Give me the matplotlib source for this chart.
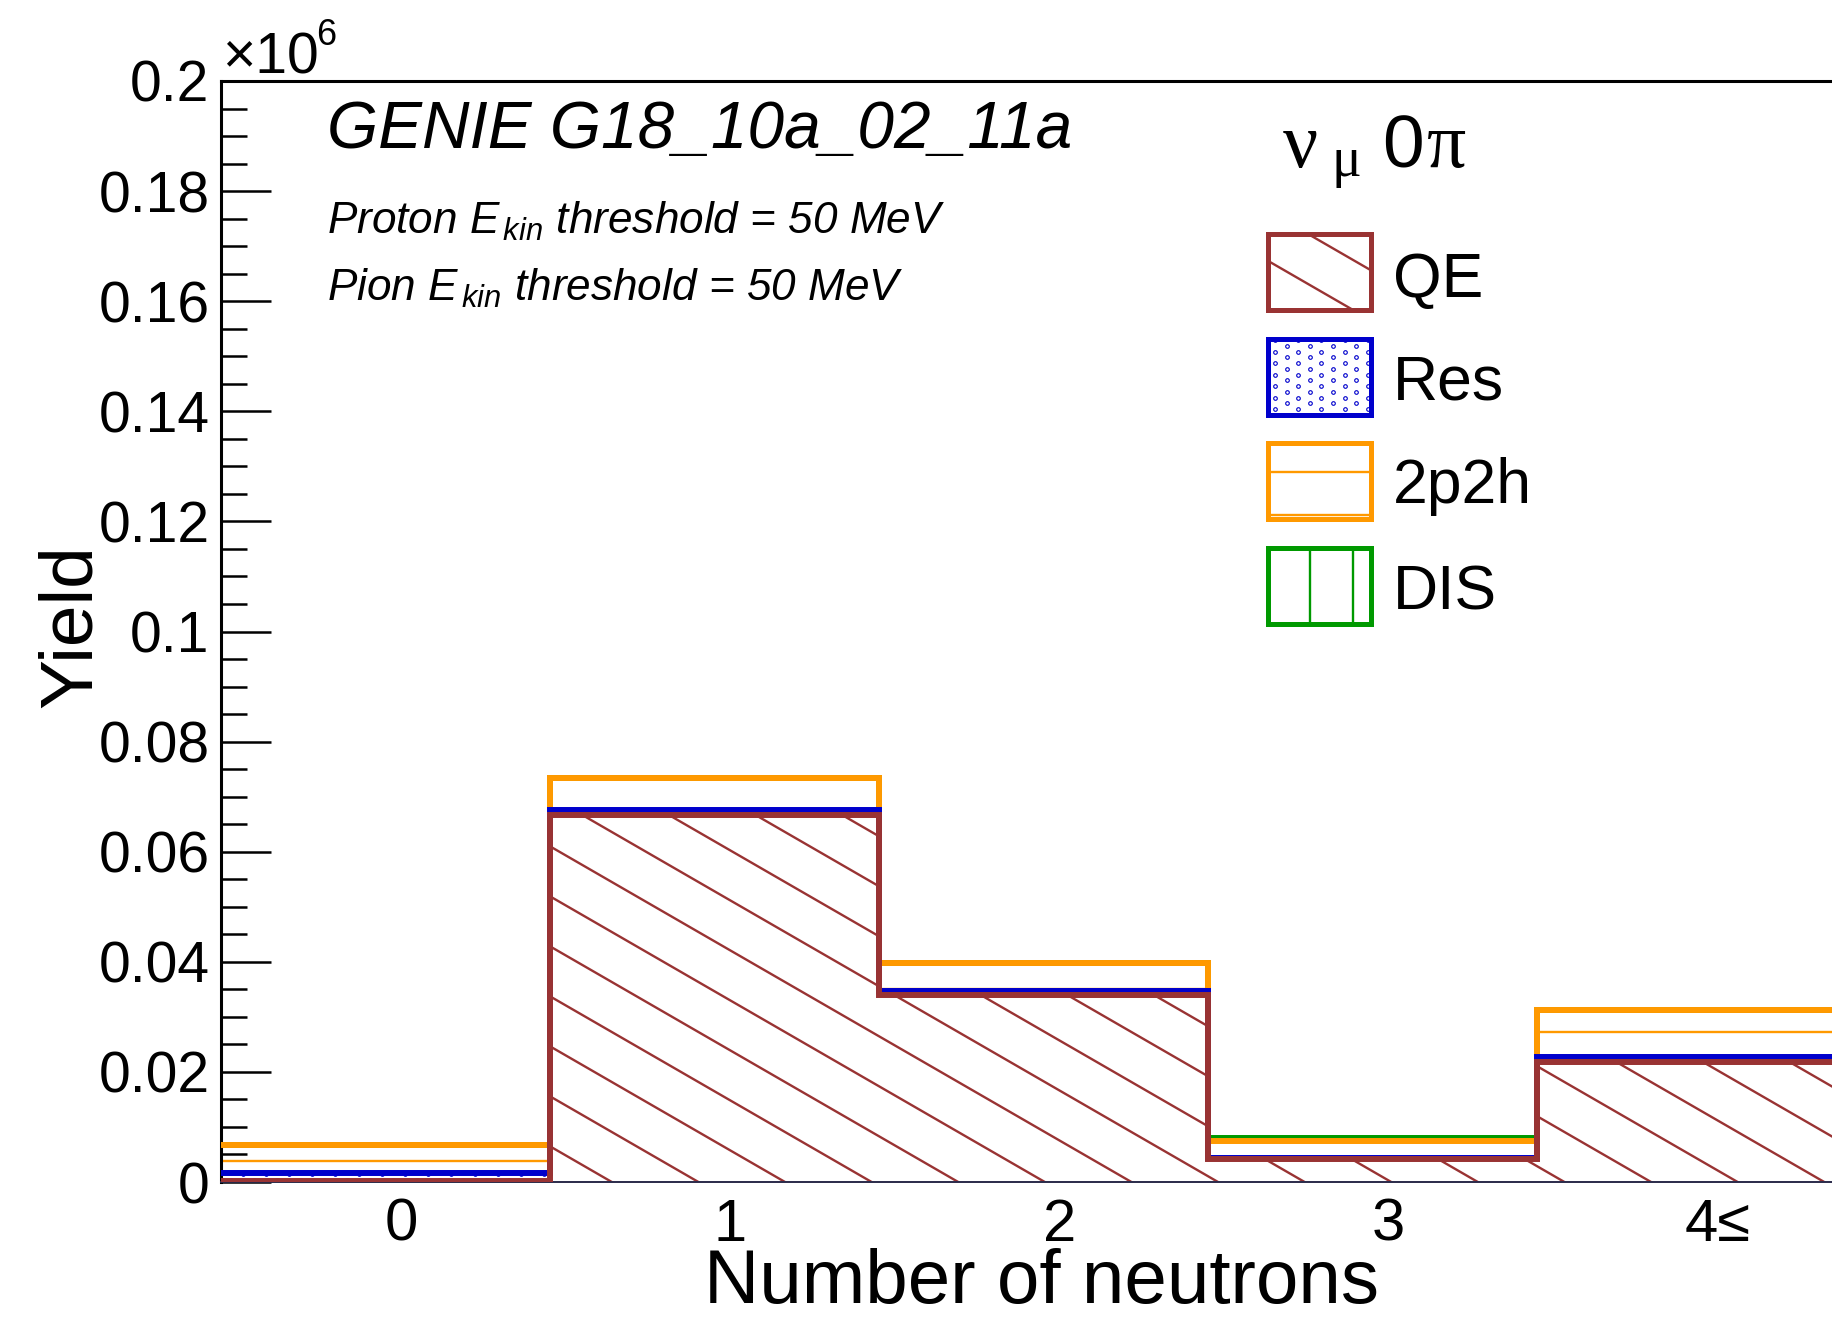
import numpy as np
import matplotlib.pyplot as plt
from matplotlib.collections import LineCollection
from matplotlib.patches import Rectangle
from matplotlib.ticker import MultipleLocator, FuncFormatter
from matplotlib.transforms import ScaledTranslation

plt.rcParams['font.family'] = ['Liberation Sans', 'DejaVu Sans']
plt.rcParams['mathtext.fontset'] = 'custom'
plt.rcParams['mathtext.rm'] = 'Liberation Sans'
plt.rcParams['mathtext.it'] = 'Liberation Sans:italic'

# neutron multiplicity bins and stacked yields per interaction channel
bin_labels = ['0', '1', '2', '3', '4≤']
qe = [200, 66600, 34000, 4100, 21800]
res = [1400, 1050, 650, 330, 850]
mec = [5150, 5750, 5150, 3050, 8540]
dis = [30, 40, 40, 480, 80]

channels = ['QE', 'Res', '2p2h', 'DIS']
colors = ['#993333', '#0000cc', '#ff9900', '#009900']
hatches = ['diag', 'dots', 'horiz', 'vert']

W, H = 1832, 1320
fig = plt.figure(figsize=(W / 100, H / 100), dpi=100)
# frame runs past the right edge of the canvas
ax = fig.add_axes([221 / W, 138 / H, 1645 / W, 1101 / H])
edges = np.arange(len(bin_labels) + 1) - 0.5
ax.set_xlim(edges[0], edges[-1])
ax.set_ylim(0, 200000)


def to_fig(x, y):
    return np.asarray(x) / W, 1 - np.asarray(y) / H


def add_hatch(kind, clip, color, box):
    x0, y0, x1, y1 = box
    if kind == 'dots':
        dx, dy, ox, oy = 11.6, 11.5, 1275.0, 351.7
        xs, ys = [], []
        for i in range(int(np.floor((x0 - ox) / dx)) - 1, int(np.ceil((x1 - ox) / dx)) + 2):
            shift = -dy / 2 if i % 2 else 0.0
            for j in range(int(np.floor((y0 - oy - shift) / dy)) - 1,
                           int(np.ceil((y1 - oy - shift) / dy)) + 2):
                xs.append(ox + i * dx)
                ys.append(oy + shift + j * dy)
        fx, fy = to_fig(xs, ys)
        art, = ax.plot(fx, fy, ls='none', marker='o', ms=2.6, mfc='none',
                       mec=color, mew=0.8, transform=fig.transFigure, zorder=2)
        art.set_clip_path(clip)
        return
    segs = []
    if kind == 'diag':
        t = np.tan(np.radians(30))
        base = 847.3 + t * (x0 - 551.7)
        k0 = int(np.floor((y0 - t * (x1 - x0) - base) / 50)) - 1
        k1 = int(np.ceil((y1 - base) / 50)) + 1
        for k in range(k0, k1 + 1):
            ya = base + k * 50
            segs.append([(x0, ya), (x1, ya + t * (x1 - x0))])
    elif kind == 'horiz':
        for k in range(int(np.floor((y0 - 1161.3) / 43.1)) - 1, int(np.ceil((y1 - 1161.3) / 43.1)) + 2):
            y = 1161.3 + k * 43.1
            segs.append([(x0, y), (x1, y)])
    elif kind == 'vert':
        for k in range(int(np.floor((x0 - 1310) / 43.1)) - 1, int(np.ceil((x1 - 1310) / 43.1)) + 2):
            x = 1310 + k * 43.1
            segs.append([(x, y0), (x, y1)])
    segs = [[tuple(to_fig(*p)) for p in s] for s in segs]
    lc = LineCollection(segs, colors=color, linewidths=1.7,
                        transform=fig.transFigure, zorder=2)
    ax.add_collection(lc, autolim=False)
    lc.set_clip_path(clip)


# stacked bands, each hatched with its own pattern
stack = [np.array(qe), np.array(res), np.array(mec), np.array(dis)]
lower = np.zeros(len(bin_labels))
tops = []
for vals, color, kind in zip(stack, colors, hatches):
    upper = lower + vals
    band = ax.stairs(upper, edges, baseline=lower, fill=True,
                     facecolor='none', edgecolor='none', linewidth=0, zorder=1)
    ext = band.get_window_extent()
    add_hatch(kind, band, color, (ext.x0, H - ext.y1, ext.x1, H - ext.y0))
    tops.append(upper)
    lower = upper

# outlines: total first, QE last on top
for i in reversed(range(len(channels))):
    ax.stairs(tops[i], edges, baseline=None, color=colors[i], linewidth=4.3,
              zorder=3 + (len(channels) - i) * 0.1)

# axes styling
ax.spines['right'].set_visible(False)
ax.spines['left'].set_linewidth(2.2)
ax.spines['top'].set_linewidth(2.2)
ax.spines['bottom'].set_linewidth(1.4)
ax.spines['bottom'].set_color('#2a2a4a')

ax.yaxis.set_major_locator(MultipleLocator(20000))
ax.yaxis.set_minor_locator(MultipleLocator(5000))
ax.yaxis.set_major_formatter(FuncFormatter(lambda v, p: '%g' % (v / 1e6)))
ax.tick_params(axis='y', which='major', direction='in', length=36, width=1.8,
               pad=8.3, labelsize=41)
ax.tick_params(axis='y', which='minor', direction='in', length=18.7, width=1.8)

ax.set_xticks(np.arange(len(bin_labels)), bin_labels)
ax.tick_params(axis='x', length=0, pad=11.5, labelsize=43)
shift = ScaledTranslation(16 / 100, 0, fig.dpi_scale_trans)
for tick in ax.xaxis.get_major_ticks():
    tick.label1.set_transform(tick.label1.get_transform() + shift)

ax.set_xlabel('Number of neutrons', fontsize=55)
ax.xaxis.label.set_ha('right')
ax.xaxis.label.set_va('baseline')
ax.xaxis.set_label_coords((1379 - 221) / 1645, -(1303 - 1182) / 1101)

ax.set_ylabel('Yield', fontsize=54, rotation=90, rotation_mode='anchor',
              ha='center', va='baseline')
ax.yaxis.set_label_coords((91 - 221) / 1645, (1182 - 626) / 1101)

# axis multiplier
fig.text(*to_fig(222, 74), '×10', fontsize=41, va='baseline')
fig.text(*to_fig(316, 45), '6', fontsize=26, va='baseline')

# generator and threshold notes
fig.text(*to_fig(327, 148), 'GENIE G18_10a_02_11a', fontsize=47.3,
         style='italic', va='baseline')
fig.text(*to_fig(327, 234), r'Proton $E_{\,kin}$ threshold = 50 MeV',
         fontsize=31.8, style='italic', va='baseline')
fig.text(*to_fig(327, 301), r'Pion $E_{\,kin}$ threshold = 50 MeV',
         fontsize=31.8, style='italic', va='baseline')

# legend header
fig.text(*to_fig(1283, 167), 'ν', fontsize=56, family='Liberation Serif', va='baseline')
fig.text(*to_fig(1331, 176), 'μ', fontsize=40, family='Liberation Serif', va='baseline')
fig.text(*to_fig(1382, 167), '0', fontsize=54, va='baseline')
fig.text(*to_fig(1427, 167), 'π', fontsize=56, family='Liberation Serif', va='baseline')

# legend boxes
box_tops = [234, 339, 443, 548]
text_base = [297, 400, 503, 609]
for name, color, kind, yt, yb in zip(channels, colors, hatches, box_tops, text_base):
    x0, x1, y0, y1 = 1268, 1371, yt, yt + 76
    fx0, fy0 = to_fig(x0, y1)
    rect = Rectangle((fx0, fy0), (x1 - x0) / W, (y1 - y0) / H, transform=fig.transFigure,
                     fill=False, edgecolor='none', zorder=5)
    ax.add_patch(rect)
    add_hatch(kind, rect, color, (x0, y0, x1, y1))
    frame = Rectangle((fx0, fy0), (x1 - x0) / W, (y1 - y0) / H, transform=fig.transFigure,
                      fill=False, edgecolor=color, linewidth=3.6, zorder=6)
    ax.add_patch(frame)
    fig.text(*to_fig(1393, yb), name, fontsize=45, va='baseline')

fig.savefig('out.png', dpi=100)
